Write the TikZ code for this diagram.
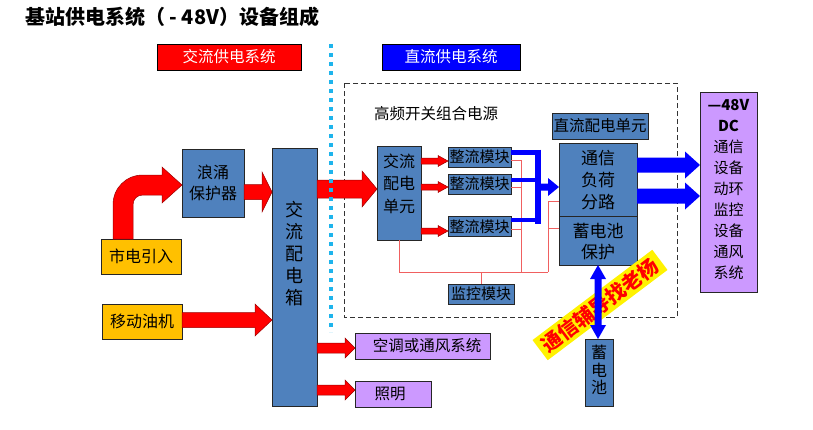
\documentclass[tikz,border=0pt]{standalone}
\usepackage{fontspec}
\setmainfont{Noto Sans CJK SC}
\usetikzlibrary{calc}
\definecolor{boxblue}{HTML}{4F81BD}
\definecolor{lilac}{HTML}{CC99FF}
\definecolor{gold}{HTML}{FFC000}
\definecolor{dotcyan}{HTML}{1EB4EC}
\definecolor{monred}{HTML}{F06060}
\definecolor{darkred}{HTML}{9A0000}
\newcommand\fs[2]{\fontsize{#1}{#2}\selectfont}
% horizontal block arrow: style, start, end, shaft half, head half, head length
\newcommand\harr[6]{\path[#1] let \p1=#2, \p2=#3 in (\x1,{\y1+#4}) -- ({\x2-#6},{\y1+#4}) -- ({\x2-#6},{\y1+#5}) -- (\x2,\y1) -- ({\x2-#6},{\y1-#5}) -- ({\x2-#6},{\y1-#4}) -- (\x1,{\y1-#4}) -- cycle;}
\begin{document}
\begin{tikzpicture}[x=1pt,y=-1pt,
  every node/.style={inner sep=0pt, outer sep=0pt},
  bbox/.style={draw=black!85, fill=boxblue, line width=0.6pt},
  pbox/.style={draw=black!85, fill=lilac, line width=0.6pt},
  ybox/.style={draw=black!85, fill=gold, line width=0.6pt},
  redarr/.style={fill=red, draw=darkred, line width=0.5pt},
  bluearr/.style={fill=blue, draw=none},
  mon/.style={draw=monred, line width=0.7pt},
  bline/.style={draw=blue, line width=4.5pt},
  txt/.style={font=\fs{16}{22}, align=center},
]
\useasboundingbox (0,0) rectangle (813,429);
\fill[white] (0,0) rectangle (813,429);

% title
\node[anchor=west, font=\bfseries\fs{20}{24}] (title) at (25,17) {基站供电系统（ - 48V）设备组成};

% section headers
\node[draw=black, fill=red, line width=0.6pt, minimum width=144pt, minimum height=26pt,
      text=white, font=\fs{15.5}{18}] (acsys) at (229,57) {交流供电系统};
\node[draw=black, fill=blue, line width=0.6pt, minimum width=138pt, minimum height=26pt,
      text=white, font=\fs{15.5}{18}] (dcsys) at (451,57) {直流供电系统};

% dashed frame of the switching power supply
\draw[black!80, dashed, dash pattern=on 5pt off 3pt, line width=0.8pt] (344,83) rectangle (677,317);
\node[font=\fs{15.5}{18}] (hflabel) at (436,114) {高频开关组合电源};

% left side boxes
\node[ybox, minimum width=80pt, minimum height=35pt] (mains) at (141,256.5) {};
\node[font=\fs{16}{20}] (mainsT) at (mains.center) {市电引入};
\node[ybox, minimum width=80pt, minimum height=35pt] (gen) at (142,321.5) {};
\node[font=\fs{16}{20}] (genT) at (gen.center) {移动油机};
\node[bbox, minimum width=62pt, minimum height=68pt] (surge) at (213,183) {};
\node[txt, font=\fs{16}{21}] (surgeT) at (213,182.5) {浪涌\\保护器};
\node[bbox, minimum width=45pt, minimum height=258pt] (acbox) at (294.5,277) {};
\node[txt, font=\fs{18}{22}] (acboxT) at (294.5,254) {交\\流\\配\\电\\箱};
\node[pbox, minimum width=135pt, minimum height=26pt] (ac) at (422.5,346) {};
\node[font=\fs{15.5}{18}] (acT) at (427,346) {空调或通风系统};
\node[pbox, minimum width=76pt, minimum height=26pt] (light) at (393,394) {};
\node[font=\fs{15.5}{18}] (lightT) at (390,394) {照明};

% inside the frame
\node[bbox, minimum width=44pt, minimum height=94pt] (acdu) at (399,193) {};
\node[txt, font=\fs{16}{22.5}] (acduT) at (399,183.5) {交流\\配电\\单元};
\node[bbox, minimum width=63pt, minimum height=20pt, font=\fs{15}{18}] (rect1) at (479.5,157) {整流模块};
\node[bbox, minimum width=63pt, minimum height=20pt, font=\fs{15}{18}] (rect2) at (479.5,184) {整流模块};
\node[bbox, minimum width=63pt, minimum height=20pt, font=\fs{15}{18}] (rect3) at (479.5,226.5) {整流模块};
\node[bbox, minimum width=66pt, minimum height=20pt, font=\fs{15}{18}] (mon) at (481,294) {监控模块};
\node[bbox, minimum width=96pt, minimum height=26pt, font=\fs{15.5}{18}] (dcdu) at (600,126) {直流配电单元};
\node[bbox, minimum width=78pt, minimum height=73pt] (load) at (598,179.5) {};
\node[txt, font=\fs{17}{22}] (loadT) at (598,180.5) {通信\\负荷\\分路};
\node[bbox, minimum width=78pt, minimum height=49pt] (batp) at (598,240.5) {};
\node[txt, font=\fs{17}{21}] (batpT) at (598,242) {蓄电池\\保护};

% right-hand DC load box
\node[pbox, minimum width=57pt, minimum height=200pt] (dcload) at (728.5,192) {};
\node[txt, font=\fs{15}{21}] (dcloadT) at (728.5,189) {\textbf{—48V}\\\textbf{DC}\\通信\\设备\\动环\\监控\\设备\\通风\\系统};

% battery
\node[bbox, minimum width=28pt, minimum height=67pt] (bat) at (599,372.5) {};
\node[txt, font=\fs{16}{17.5}] (batT) at (599,370) {蓄\\电\\池};

% monitoring lines
\coordinate (mj) at (481,272);
\coordinate (vr) at (521,272);
\coordinate (vl) at (548,272);
\draw[mon] (acdu.south) |- (vl);
\draw[mon] (mon.north) -- (mon.north |- mj);
\draw[mon] ([yshift=-3pt]rect1.east) -| (vr);
\draw[mon] ([yshift=-3pt]rect2.east) -- ++(10,0);
\draw[mon] ([yshift=-2.5pt]rect3.east) -- ++(10,0);
\draw[mon] ([yshift=-21.5pt]load.west) -| (vl);
\draw[mon] ([yshift=12.5pt]batp.west) -- ++(-11,0);

% DC bus from rectifiers
\coordinate (busT) at (538,149.5);
\coordinate (busB) at (538,224);
\coordinate (busc) at (538,187);
\draw[bline] ([yshift=4.5pt]rect1.east) -- ([yshift=4.5pt]rect1.east -| busT);
\draw[bline] ([yshift=4pt]rect2.east) -- ([yshift=4pt]rect2.east -| busT);
\draw[bline] ([yshift=6.5pt]rect3.east) -- ([yshift=6.5pt]rect3.east -| busT);
\draw[draw=blue, line width=6pt] (busT) -- (busB);
\coordinate (b3) at ([yshift=-7.5pt]load.west);
\harr{bluearr}{(busc)}{(b3)}{3.5pt}{9pt}{11pt}

% blue outputs to DC loads
\coordinate (b1) at ([yshift=14.5pt]load.east);
\coordinate (b2) at ([yshift=-16.5pt]load.east);
\harr{bluearr}{(b1)}{(b1 -| dcload.west)}{7.5pt}{13.5pt}{15pt}
\harr{bluearr}{(b2)}{(b2 -| dcload.west)}{7.5pt}{13.5pt}{15pt}

% red AC arrows
\path[redarr] let \p1=([xshift=-18pt]mains.north), \p2=([yshift=-2pt]surge.west) in
  ({\x1-10pt},\y1) -- ({\x1-10pt},{\y2-20pt})
  .. controls ({\x1-10pt},{\y2-3pt}) and ({\x1+3pt},{\y2+10pt}) .. ({\x1+20pt},{\y2+10pt})
  -- ({\x2-20pt},{\y2+10pt}) -- ({\x2-20pt},{\y2+18pt}) -- (\x2,\y2)
  -- ({\x2-20pt},{\y2-18pt}) -- ({\x2-20pt},{\y2-10pt}) -- ({\x1+20pt},{\y2-10pt})
  .. controls ({\x1+14pt},{\y2-10pt}) and ({\x1+10pt},{\y2-14pt}) .. ({\x1+10pt},{\y2-20pt})
  -- ({\x1+10pt},\y1) -- cycle;
\coordinate (a1) at ([yshift=-9pt]surge.east);
\harr{redarr}{(a1)}{(a1 -| acbox.west)}{7.5pt}{20pt}{10pt}
\coordinate (a2) at ([yshift=4pt]acdu.west);
\harr{redarr}{(a2 -| acbox.east)}{(a2)}{9pt}{18pt}{15pt}
\coordinate (a3) at ([yshift=1.5pt]gen.east);
\harr{redarr}{(a3)}{(a3 -| acbox.west)}{7.5pt}{16pt}{17pt}
\coordinate (a4) at ([yshift=-2pt]ac.west);
\harr{redarr}{(a4 -| acbox.east)}{(a4)}{5pt}{10pt}{10pt}
\coordinate (a5) at ([yshift=4pt]light.west);
\harr{redarr}{(a5 -| acbox.east)}{(a5)}{5pt}{10pt}{10pt}
\coordinate (s1) at ([yshift=-4pt]rect1.west);
\coordinate (s2) at ([yshift=-3pt]rect2.west);
\coordinate (s3) at ([yshift=-4.5pt]rect3.west);
\harr{redarr}{(s1 -| acdu.east)}{(s1)}{3pt}{5.5pt}{10pt}
\harr{redarr}{(s2 -| acdu.east)}{(s2)}{3pt}{5.5pt}{10pt}
\harr{redarr}{(s3 -| acdu.east)}{(s3)}{3pt}{5.5pt}{10pt}

% dotted separator
\coordinate (sepT) at (331,44);
\coordinate (sepB) at (331,332);
\draw[dotcyan, line width=4pt, dash pattern=on 4pt off 5pt] (sepT) -- (sepB);

% yellow banner
\node[fill=yellow, text=red, font=\bfseries\fs{20}{22}, rotate=37, inner xsep=5pt, inner ysep=3pt] (banner) at (600,305) {通信辅导找老杨};

% battery double arrow
\path[bluearr] let \p1=(batp.south), \p2=(bat.north) in
  (\x1,\y1) -- ({\x1+8pt},{\y1-14pt}) -- ({\x1+3.5pt},{\y1-14pt}) -- ({\x1+3.5pt},{\y2+14pt})
  -- ({\x1+8pt},{\y2+14pt}) -- (\x1,\y2) -- ({\x1-8pt},{\y2+14pt}) -- ({\x1-3.5pt},{\y2+14pt})
  -- ({\x1-3.5pt},{\y1-14pt}) -- ({\x1-8pt},{\y1-14pt}) -- cycle;
\end{tikzpicture}
\end{document}
